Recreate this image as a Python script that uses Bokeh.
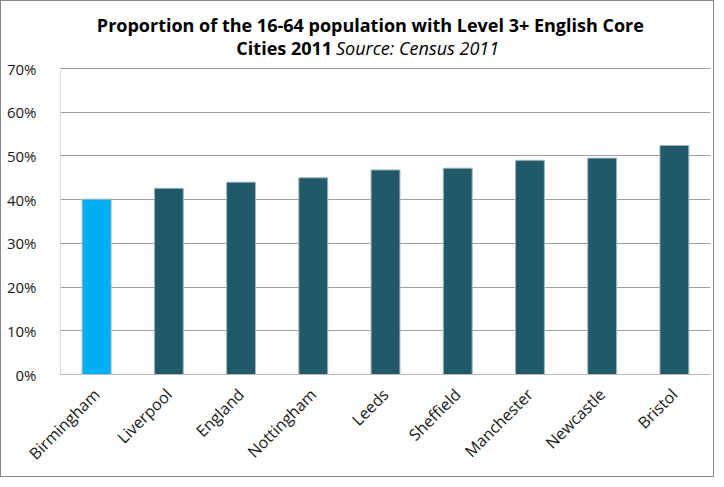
from bokeh.plotting import figure
from bokeh.models import FactorRange, FixedTicker, NumeralTickFormatter, Label, ColumnDataSource
from bokeh.embed import file_html
from bokeh.resources import INLINE
import math

cities = ["Birmingham", "Liverpool", "England", "Nottingham", "Leeds",
          "Sheffield", "Manchester", "Newcastle", "Bristol"]
share = [0.401, 0.426, 0.440, 0.450, 0.468, 0.472, 0.490, 0.495, 0.524]
y_ticks = [0.0, 0.1, 0.2, 0.3, 0.4, 0.5, 0.6, 0.7]
highlight = "Birmingham"
title_line1 = "Proportion of the 16-64 population with Level 3+ English Core"
title_line2a = "Cities 2011"
title_line2b = "Source: Census 2011"

FONT = "Open Sans"
colors = ["#00B0F0" if c == highlight else "#215968" for c in cities]
src = ColumnDataSource(dict(x=cities, top=share, color=colors))

# frame extended upward so the two-line title can live inside it
p = figure(width=714, height=477, x_range=FactorRange(*cities, range_padding=0),
           y_range=(0, 0.835), output_backend="svg", toolbar_location=None,
           min_border_left=59, min_border_right=5, min_border_top=8, min_border_bottom=104)
p.styles = {"border": "1px solid #868686"}
p.outline_line_color = None
p.background_fill_color = "white"

p.vbar(x="x", top="top", width=0.4, color="color", line_color="#9fb7bf", line_width=1, source=src)

p.xgrid.grid_line_color = None
p.ygrid.grid_line_color = "#a0a0a0"
p.ygrid.ticker = FixedTicker(ticks=y_ticks)

# left axis line only over the tick span
p.segment(x0=[0], x1=[0], y0=[min(y_ticks)], y1=[max(y_ticks)], line_color="#b8b8b8", line_width=1)

p.yaxis.ticker = FixedTicker(ticks=y_ticks)
p.yaxis.formatter = NumeralTickFormatter(format="0%")
p.yaxis.axis_line_color = None
p.xaxis.axis_line_color = "#b8b8b8"
for ax in (p.xaxis[0], p.yaxis[0]):
    ax.major_tick_line_color = None
    ax.minor_tick_line_color = None
    ax.major_label_text_font = FONT
    ax.major_label_text_color = "#1a1a1a"
p.yaxis.major_label_text_font_size = "15px"
p.xaxis.major_label_text_font_size = "16px"
p.yaxis.major_label_standoff = 18
p.xaxis.major_label_orientation = math.pi / 4
p.xaxis.major_label_standoff = 11

common = dict(text_font=FONT, text_font_size="18px", text_baseline="middle", text_color="#000000")
p.add_layout(Label(x=4.29, y=0.800, text=title_line1, text_font_style="bold",
                   text_align="center", **common))
p.add_layout(Label(x=3.76, y=0.748, text=title_line2a, text_font_style="bold",
                   text_align="right", **common))
p.add_layout(Label(x=3.815, y=0.748, text=title_line2b, text_font_style="italic",
                   text_align="left", **common))

open("out.html", "w").write(file_html(p, INLINE))
